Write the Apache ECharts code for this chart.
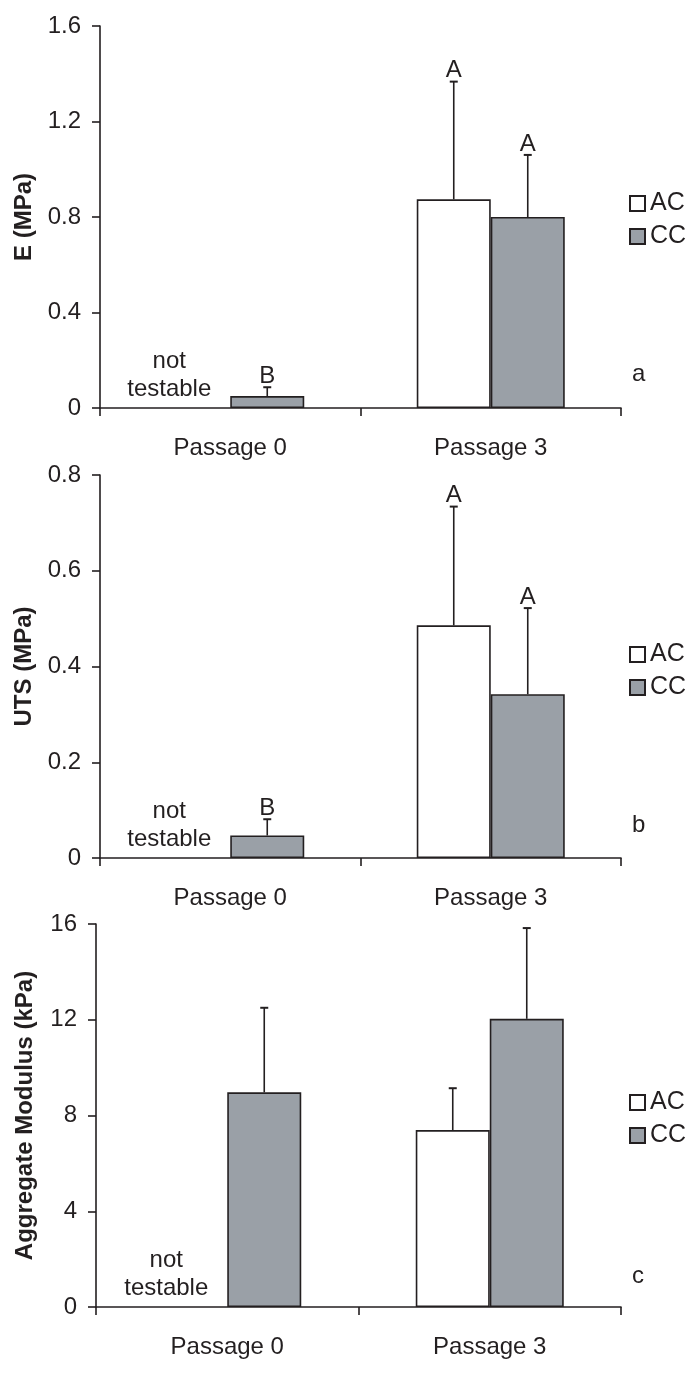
<!DOCTYPE html>
<html>
<head>
<meta charset="utf-8">
<script src="https://cdn.jsdelivr.net/npm/echarts@6/dist/echarts.min.js"></script>
<style>
html,body{margin:0;padding:0;background:#fff;}
#chart{width:700px;height:1377px;}
</style>
</head>
<body>
<div id="chart"></div>
<script>
// ---- data ----
const categories = ['Passage 0', 'Passage 3'];
const seriesNames = ['AC', 'CC'];

// Panel a: E (MPa)
const E_AC = [0, 0.874];
const E_AC_err = [null, 0.493];
const E_AC_letters = ['', 'A'];
const E_CC = [0.05, 0.80];
const E_CC_err = [0.037, 0.26];
const E_CC_letters = ['B', 'A'];
const E_ticks = { min: 0, max: 1.6, interval: 0.4 };

// Panel b: UTS (MPa)
const UTS_AC = [0, 0.486];
const UTS_AC_err = [null, 0.248];
const UTS_AC_letters = ['', 'A'];
const UTS_CC = [0.047, 0.342];
const UTS_CC_err = [0.034, 0.18];
const UTS_CC_letters = ['B', 'A'];
const UTS_ticks = { min: 0, max: 0.8, interval: 0.2 };

// Panel c: Aggregate Modulus (kPa)
const AGG_AC = [0, 7.39];
const AGG_AC_err = [null, 1.75];
const AGG_AC_letters = ['', ''];
const AGG_CC = [8.97, 12.04];
const AGG_CC_err = [3.53, 3.79];
const AGG_CC_letters = ['', ''];
const AGG_ticks = { min: 0, max: 16, interval: 4 };

const notTestableText = 'not\ntestable';
const panelLetters = ['a', 'b', 'c'];
const yTitles = ['E (MPa)', 'UTS (MPa)', 'Aggregate Modulus (kPa)'];

// ---- styles ----
const FONT = "'Liberation Sans', Arial, Helvetica, sans-serif";
const TXT = '#231f20';
const LINE = '#231f20';
const GRAY = '#9aa0a7';
const BAR_W = 74;

const panels = [
  { AC: E_AC, ACe: E_AC_err, ACl: E_AC_letters, CC: E_CC, CCe: E_CC_err, CCl: E_CC_letters, t: E_ticks, fmt: v => v === 0 ? '0' : v.toFixed(1),
    grid: { left: 100, top: 26, width: 521, height: 382 }, nameGap: 63, legendTop: 191, letterTop: 362 },
  { AC: UTS_AC, ACe: UTS_AC_err, ACl: UTS_AC_letters, CC: UTS_CC, CCe: UTS_CC_err, CCl: UTS_CC_letters, t: UTS_ticks, fmt: v => v === 0 ? '0' : v.toFixed(1),
    grid: { left: 100, top: 475, width: 521, height: 383 }, nameGap: 63, legendTop: 642, letterTop: 813 },
  { AC: AGG_AC, ACe: AGG_AC_err, ACl: AGG_AC_letters, CC: AGG_CC, CCe: AGG_CC_err, CCl: AGG_CC_letters, t: AGG_ticks, fmt: v => String(v),
    grid: { left: 96, top: 924, width: 525, height: 383 }, nameGap: 59, legendTop: 1090, letterTop: 1264 }
];

function errRender(dx) {
  return function (params, api) {
    const x = api.value(0), v = api.value(1), e = api.value(2);
    const base = api.coord([x, v]);
    const top = api.coord([x, v + e]);
    const cx = base[0] + dx;
    const children = [];
    const hasErr = !isNaN(e) && e !== null;
    if (hasErr) {
      children.push({ type: 'line', shape: { x1: cx, y1: base[1], x2: cx, y2: top[1] }, style: { stroke: LINE, lineWidth: 1.6 } });
      children.push({ type: 'line', shape: { x1: cx - 4, y1: top[1], x2: cx + 4, y2: top[1] }, style: { stroke: LINE, lineWidth: 2 } });
    }
    const lab = api.value(3);
    if (lab) {
      const ty = hasErr ? top[1] : base[1];
      children.push({ type: 'text', style: { x: cx, y: ty + 1, text: lab, align: 'center', verticalAlign: 'bottom', fontSize: 24, fontFamily: FONT, fill: TXT } });
    }
    return { type: 'group', children };
  };
}

const grid = [], xAxis = [], yAxis = [], series = [], legend = [], title = [];
panels.forEach((p, i) => {
  grid.push(Object.assign({ containLabel: false }, p.grid));
  xAxis.push({
    type: 'category', gridIndex: i, data: categories, boundaryGap: true,
    axisLine: { lineStyle: { color: LINE, width: 1.6 } },
    axisTick: { show: true, length: 8, lineStyle: { color: LINE, width: 1.6 } },
    axisLabel: { color: TXT, fontSize: 24, fontFamily: FONT, margin: 28 },
    splitLine: { show: false }
  });
  yAxis.push({
    type: 'value', gridIndex: i, min: p.t.min, max: p.t.max, interval: p.t.interval,
    name: yTitles[i], nameLocation: 'middle', nameRotate: 90, nameGap: p.nameGap,
    nameTextStyle: { color: TXT, fontSize: 24, fontWeight: 'bold', fontFamily: FONT },
    axisLine: { show: true, lineStyle: { color: LINE, width: 1.6 } },
    axisTick: { show: true, length: 8, lineStyle: { color: LINE, width: 1.6 } },
    axisLabel: { color: TXT, fontSize: 24, fontFamily: FONT, margin: 19, formatter: p.fmt },
    splitLine: { show: false }
  });
  series.push({
    name: 'AC', type: 'bar', xAxisIndex: i, yAxisIndex: i, barWidth: BAR_W, barGap: '0%',
    itemStyle: { color: '#ffffff', borderColor: LINE, borderWidth: 1.6 },
    data: p.AC.map((v, k) => k === 0 ? { value: v, itemStyle: { borderWidth: 0 }, label: { show: true, position: 'top', distance: 5, offset: [-24, 0], formatter: notTestableText, color: TXT, fontSize: 24, lineHeight: 28, fontFamily: FONT } } : v),
    z: 2
  });
  series.push({
    name: 'CC', type: 'bar', xAxisIndex: i, yAxisIndex: i, barWidth: BAR_W, barGap: '0%',
    itemStyle: { color: GRAY, borderColor: LINE, borderWidth: 1.6 },
    data: p.CC, z: 2
  });
  series.push({
    type: 'custom', xAxisIndex: i, yAxisIndex: i, renderItem: errRender(-BAR_W / 2), clip: false, z: 3,
    data: p.AC.map((v, k) => [k, v, p.ACe[k] === null ? NaN : p.ACe[k], p.ACl[k]]),
    silent: true
  });
  series.push({
    type: 'custom', xAxisIndex: i, yAxisIndex: i, renderItem: errRender(BAR_W / 2), clip: false, z: 3,
    data: p.CC.map((v, k) => [k, v, p.CCe[k] === null ? NaN : p.CCe[k], p.CCl[k]]),
    silent: true
  });
  legend.push({
    data: seriesNames, orient: 'vertical', left: 629, top: p.legendTop, padding: 0,
    icon: 'rect', itemWidth: 15, itemHeight: 15, itemGap: 8,
    textStyle: { color: TXT, fontSize: 25, fontFamily: FONT, lineHeight: 25 },
    selectedMode: false
  });
  title.push({ text: panelLetters[i], left: 632, top: p.letterTop, padding: 0,
    textStyle: { color: TXT, fontSize: 24, fontWeight: 'normal', fontFamily: FONT } });
});

const chart = echarts.init(document.getElementById('chart'), null, { renderer: 'canvas' });
chart.setOption({ animation: false, backgroundColor: '#ffffff', title, legend, grid, xAxis, yAxis, series });
</script>
</body>
</html>
